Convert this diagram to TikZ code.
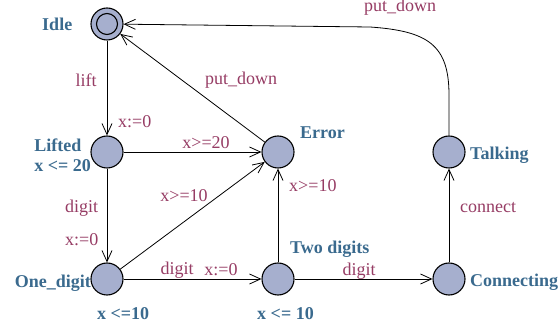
\documentclass[tikz,border=0pt]{standalone}
\usepackage{fontspec}
\setmainfont{Liberation Serif}
\usetikzlibrary{positioning, arrows.meta}
\definecolor{locfill}{HTML}{A6AFCE}
\definecolor{locname}{HTML}{3A6A8E}
\definecolor{guard}{HTML}{963C64}
\tikzset{
  loc/.style={circle, draw=black, line width=1.1pt, fill=locfill,
    minimum size=32pt, inner sep=0pt},
  nm/.style={font=\bfseries\fontsize{18}{20}\selectfont, text=locname,
    inner sep=0pt, align=left},
  lbl/.style={font=\fontsize{18}{20}\selectfont, text=guard, inner sep=0pt},
  edge/.style={-{Straight Barb[length=11pt,width=10pt]}, line width=0.8pt},
}
\begin{document}
\begin{tikzpicture}[x=1pt, y=-1pt, node distance=18pt]
  \useasboundingbox (0,0) rectangle (559,328);
  % locations
  \node[loc] (idle) at (107,24) {};
  \draw[line width=1.1pt] (idle.center) circle (10.5pt);
  \node[loc] (lifted) at (107,152) {};
  \node[loc] (error) at (278,152) {};
  \node[loc] (talk) at (449,152) {};
  \node[loc] (one) at (107,279) {};
  \node[loc] (two) at (278,279) {};
  \node[loc] (conn) at (449,279) {};
  % names and invariants
  \node[nm, left=of idle] (nidle) {Idle};
  \node[nm, anchor=east] (nlifted) at (91,155) {Lifted\\x <= 20};
  \node[nm, anchor=west] (nerror) at (300,133) {Error};
  \node[nm, anchor=west] (ntalk) at (470,155) {Talking};
  \node[nm, anchor=east] (none) at (91,283) {One\_digit};
  \node[nm, anchor=west] (ione) at (97,314) {x <=10};
  \node[nm, anchor=west] (ntwo) at (290,249) {Two digits};
  \node[nm] (itwo) at (285.5,314) {x <= 10};
  \node[nm, anchor=west] (nconn) at (470,282) {Connecting};
  % transitions
  \draw[edge] (idle) -- (lifted);
  \draw[edge] (lifted) -- (error);
  \draw[edge] (error) -- (idle);
  \draw[edge] (lifted) -- (one);
  \draw[edge] (one) -- (error);
  \draw[edge] (one) -- (two);
  \draw[edge] (two) -- (error);
  \draw[edge] (two) -- (conn);
  \draw[edge] (conn) -- (talk);
  \draw[edge] (talk.north) -- (449,95) .. controls (449,45) and (428,31) .. (370,27) -- (idle);
  % labels
  \node[lbl] (llift) at (86,80) {lift};
  \node[lbl, anchor=west] (lreset1) at (118,122) {x:=0};
  \node[lbl] (lg20) at (206,143) {x>=20};
  \node[lbl] (lput1) at (241,80) {put\_down};
  \node[lbl] (lput2) at (400,7) {put\_down};
  \node[lbl, anchor=west] (ldigit1) at (65,208) {digit};
  \node[lbl, anchor=west] (lreset2) at (65,240) {x:=0};
  \node[lbl] (lg10a) at (184,196) {x>=10};
  \node[lbl] (ldigit2) at (177,270) {digit};
  \node[lbl] (lreset3) at (221,270) {x:=0};
  \node[lbl, anchor=west] (lg10b) at (289,186) {x>=10};
  \node[lbl, anchor=west] (lconnect) at (460,208) {connect};
  \node[lbl] (ldigit3) at (359,271) {digit};
\end{tikzpicture}
\end{document}
